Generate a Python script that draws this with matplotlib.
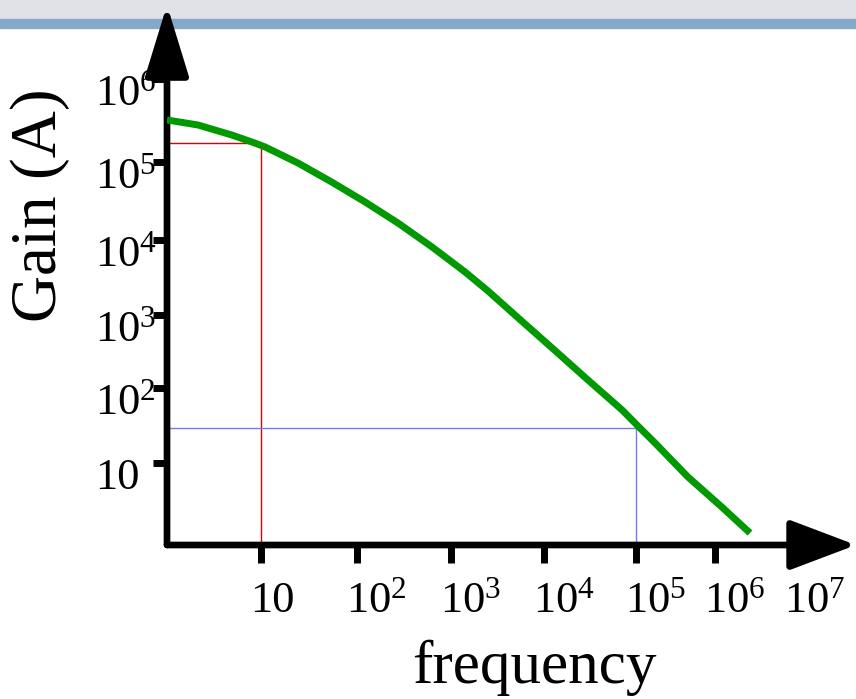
import numpy as np
import matplotlib.pyplot as plt
from matplotlib.patches import Rectangle
from matplotlib.transforms import ScaledTranslation

plt.rcParams['font.family'] = ['Liberation Serif', 'DejaVu Serif']
plt.rcParams['mathtext.default'] = 'regular'

# open-loop gain curve
freq = [1, 2.14, 4.92, 8.63, 11.0, 24.3, 55, 122, 273, 628, 1.42e3, 2.5e3, 5.8e3,
        1.32e4, 3.0e4, 7.05e4, 1.12e5, 1.74e5, 4.55e5, 1.22e6, 2.74e6]
gain = [3.21e5, 2.79e5, 2.11e5, 1.69e5, 1.52e5, 9.7e4, 5.5e4, 3.07e4, 1.65e4, 8.07e3,
        3.74e3, 2.09e3, 820, 325, 129, 51, 29.3, 18.5, 6.75, 2.9, 1.40]

# guide lines (red: low frequency, blue: high frequency)
red_f, red_gain = 10, 1.68e5
blue_f, blue_gain = 1e5, 29

x_ticks = [1e1, 1e2, 1e3, 1e4, 1e5, 1e6, 1e7]
x_labels = ['10', '$10^{2}$', '$10^{3}$', '$10^{4}$', '$10^{5}$', '$10^{6}$', '$10^{7}$']
y_ticks = [1e1, 1e2, 1e3, 1e4, 1e5, 1e6]
y_labels = ['10', '$10^{2}$', '$10^{3}$', '$10^{4}$', '$10^{5}$', '$10^{6}$']

# the hand-drawn axes are not evenly spaced per decade: pixel position of each decade
x_dec = [0, 1, 2, 3, 4, 5, 6, 7, 7.77]
x_pos = [167, 261, 357, 451, 544, 636, 715, 795, 856]
y_dec = [0, 1, 2, 3, 4, 5, 6, 6.92]
y_pos = [0, 82, 157, 230, 305, 383, 466, 540]


def make_scale(dec, pos):
    def fwd(v):
        v = np.asarray(v, dtype=float)
        lv = np.log10(np.where(v > 0, v, 1e-300))
        return np.interp(lv, dec, pos)

    def inv(p):
        return 10 ** np.interp(np.asarray(p, dtype=float), pos, dec)
    return fwd, inv


W, H = 856, 699
fig = plt.figure(figsize=(W / 100, H / 100), dpi=100)

# slide header band
fig.patches.append(Rectangle((0, 1 - 19 / H), 1, 19 / H, transform=fig.transFigure,
                             color='#e0e2e7', zorder=-2))
fig.patches.append(Rectangle((0, 1 - 28 / H), 1, 9 / H, transform=fig.transFigure,
                             color='#86a8c9', zorder=-2))

ax = fig.add_axes([167 / W, 154 / H, 689 / W, 540 / H])
ax.patch.set_visible(False)
ax.set_xscale('function', functions=make_scale(x_dec, x_pos))
ax.set_yscale('function', functions=make_scale(y_dec, y_pos))
ax.set_xlim(1, 10 ** 7.77)
ax.set_ylim(1, 10 ** 6.92)
for s in ax.spines.values():
    s.set_visible(False)

ax.set_xticks(x_ticks)
ax.set_yticks(y_ticks)
ax.minorticks_off()
ax.tick_params(axis='x', direction='out', length=13, width=5, color='black', labelbottom=False)
ax.tick_params(axis='y', direction='out', length=10, width=5, color='black', labelleft=False)

# guide lines
ax.plot([1, red_f], [red_gain, red_gain], color='#dd0000', lw=1)
ax.plot([red_f, red_f], [1, red_gain], color='#dd0000', lw=1)
ax.plot([1, blue_f], [blue_gain, blue_gain], color='#7777ee', lw=1)
ax.plot([blue_f, blue_f], [1, blue_gain], color='#7777ee', lw=1)

ax.plot(freq, gain, color='#009900', lw=5, solid_capstyle='butt',
        solid_joinstyle='round', zorder=4)

# arrowed axes
ax.annotate('', xy=(1, 0), xytext=(0, 0), xycoords='axes fraction',
            arrowprops=dict(arrowstyle='-|>,head_length=4.1,head_width=1.55', lw=4.8,
                            color='black', mutation_scale=10, shrinkA=0, shrinkB=0))
ax.annotate('', xy=(0, 1), xytext=(0, 0), xycoords='axes fraction',
            arrowprops=dict(arrowstyle='-|>,head_length=4.4,head_width=1.35', lw=4.8,
                            color='black', mutation_scale=10, shrinkA=0, shrinkB=0))

# tick labels
off_x = ScaledTranslation(-11 / 100, -67 / 100, fig.dpi_scale_trans)
for v, lab in zip(x_ticks, x_labels):
    ax.text(v, 0, lab, transform=ax.get_xaxis_transform() + off_x,
            ha='left', va='baseline', fontsize=32)
off_y = ScaledTranslation(-72 / 100, -26 / 100, fig.dpi_scale_trans)
for v, lab in zip(y_ticks, y_labels):
    ax.text(0, v, lab, transform=ax.get_yaxis_transform() + off_y,
            ha='left', va='baseline', fontsize=32)

fig.text(412 / W, 1 - 683 / H, 'frequency', ha='left', va='baseline', fontsize=44)
fig.text(56 / W, 1 - 205 / H, 'Gain (A)', ha='center', va='baseline', rotation=90,
         rotation_mode='anchor', fontsize=47)

fig.savefig('out.png', dpi=100)
